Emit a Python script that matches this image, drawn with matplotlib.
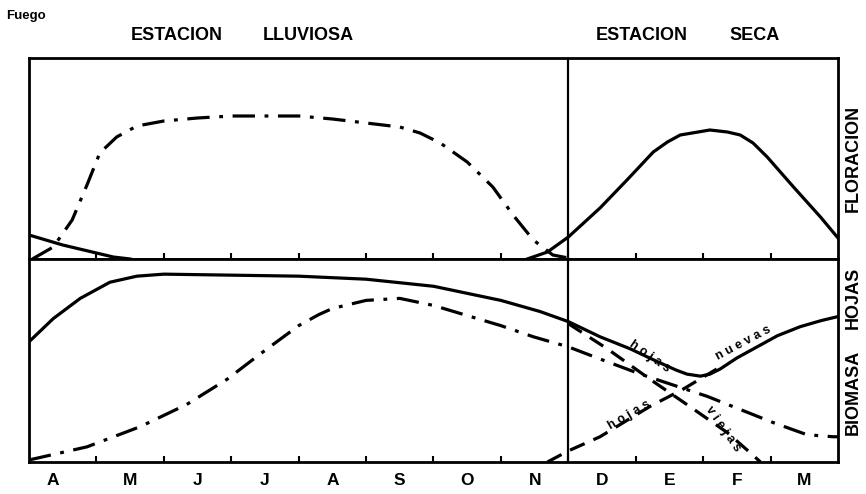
import numpy as np
import matplotlib
matplotlib.use("Agg")
import matplotlib.pyplot as plt

plt.rcParams['font.family'] = ['Liberation Sans', 'DejaVu Sans']
plt.rcParams['font.weight'] = 'bold'

# --- datos (x en meses desde abril, y en unidades relativas 0-200)
meses = ['A', 'M', 'J', 'J', 'A', 'S', 'O', 'N', 'D', 'E', 'F', 'M']
pos_meses = [0.35, 1.5, 2.5, 3.5, 4.5, 5.5, 6.5, 7.5, 8.5, 9.5, 10.5, 11.5]
limite_seca = 8.0

# floracion
flor_prev_x = [0, 0.5, 1.0, 1.25, 1.5]
flor_prev_y = [24, 14, 6, 2, 0]

flor_lluv_x = [0.05, 0.36, 0.64, 0.86, 1.05, 1.3, 1.6, 2.0, 2.5, 3.0, 3.5, 4.0,
               4.5, 5.0, 5.5, 5.8, 6.1, 6.5, 6.88, 7.18, 7.48, 7.77, 8.0]
flor_lluv_y = [0, 12, 39, 74, 106, 122, 133, 138, 141, 143, 143, 143,
               140, 136, 132, 126, 116, 97, 72, 44, 19, 4, 1]

flor_seca_x = [7.39, 7.69, 8.0, 8.47, 8.87, 9.26, 9.47, 9.66, 10.1, 10.36,
               10.55, 10.74, 10.95, 11.34, 11.74, 12]
flor_seca_y = [0, 7, 22, 51, 79, 107, 117, 124, 129, 127,
               124, 116, 102, 72, 42, 21]

# biomasa de hojas
bio_total_x = [0, 0.36, 0.76, 1.2, 1.6, 2.0, 3.0, 4.0, 5.0, 6.0, 7.0, 7.58, 8.0,
               8.47, 8.92, 9.3, 9.6, 9.76, 9.96, 10.1, 10.25, 10.5, 10.8, 11.1,
               11.44, 11.75, 12]
bio_total_y = [119, 142, 162, 178, 184, 186, 185, 184, 181, 174, 160, 149, 139,
               124, 112, 100, 91, 87, 85, 87, 92, 103, 114, 125,
               134, 140, 144]

bio_dd_x = [0, 0.86, 1.65, 2.34, 2.94, 3.43, 4.0, 4.3, 4.5, 5.0, 5.5, 6.0, 6.5,
            7.0, 7.48, 8.0, 8.47, 9.07, 10.06, 11.04, 11.54, 11.93, 12]
bio_dd_y = [2, 15, 35, 57, 82, 107, 135, 146, 152, 160, 162, 155, 145,
            135, 124, 114, 102, 87, 65, 39, 27, 25, 25]

viejas_x = [8.0, 8.58, 9.21, 9.8, 10.36, 10.65, 10.85]
viejas_y = [137, 112, 82, 55, 29, 12, 0]

nuevas_x = [7.69, 8.0, 8.47, 9.21, 9.7, 10.2]
nuevas_y = [0, 11, 25, 55, 72, 92]

fig = plt.figure(figsize=(8.66, 4.94), dpi=100)
ax1 = fig.add_axes([29/866, 1-259/494, 809/866, 201/494])
ax2 = fig.add_axes([29/866, 1-462/494, 809/866, 203/494])

dd = (0, (7, 3, 1.2, 3))
lw = 2.3
for ax in (ax1, ax2):
    ax.set_xlim(0, 12)
    ax.set_ylim(0, 201)
    ax.axvline(limite_seca, color='black', lw=1.6)
    for s in ax.spines.values():
        s.set_linewidth(2)
    ax.set_xticks(range(1, 12))
    ax.tick_params(axis='x', direction='in', length=4, width=1.5, labelbottom=False)
    ax.set_yticks([])

ax1.plot(flor_prev_x, flor_prev_y, color='black', lw=lw)
ax1.plot(flor_lluv_x, flor_lluv_y, color='black', lw=lw, linestyle=dd)
ax1.plot(flor_seca_x, flor_seca_y, color='black', lw=lw)

ax2.plot(bio_total_x, bio_total_y, color='black', lw=lw)
ax2.plot(bio_dd_x, bio_dd_y, color='black', lw=lw, linestyle=dd)
ax2.plot(viejas_x, viejas_y, color='black', lw=lw, linestyle=(0, (5, 3)))
ax2.plot(nuevas_x, nuevas_y, color='black', lw=lw, linestyle=(0, (5, 3)))

ax2.set_xticks(pos_meses, minor=True)
ax2.set_xticklabels(meses, minor=True)
ax2.tick_params(axis='x', which='minor', length=0, labelbottom=True,
                labelsize=12.5, pad=8)

# etiquetas de las lineas
ax2.text(9.2, 104, 'h o j a s', rotation=-35, fontsize=9, ha='center', va='center')
ax2.text(10.6, 118, 'n u e v a s', rotation=28, fontsize=9, ha='center', va='center')
ax2.text(8.9, 46, 'h o j a s', rotation=30, fontsize=9, ha='center', va='center')
ax2.text(10.3, 33, 'v i e j a s', rotation=-55, fontsize=9, ha='center', va='center')

fig.text(6/866, 1-16/494, 'Fuego', fontsize=9.5, ha='left', va='center')
fig.text(177/866, 1-35/494, 'ESTACION', fontsize=13, ha='center', va='center')
fig.text(308/866, 1-35/494, 'LLUVIOSA', fontsize=13, ha='center', va='center')
fig.text(642/866, 1-35/494, 'ESTACION', fontsize=13, ha='center', va='center')
fig.text(755/866, 1-35/494, 'SECA', fontsize=13, ha='center', va='center')
fig.text(853/866, 1-158/494, 'FLORACION', rotation=90, fontsize=13,
         ha='center', va='center')
fig.text(853/866, 1-298/494, 'HOJAS', rotation=90, fontsize=13,
         ha='center', va='center')
fig.text(853/866, 1-392/494, 'BIOMASA', rotation=90, fontsize=13,
         ha='center', va='center')

fig.savefig('out.png', dpi=100)
